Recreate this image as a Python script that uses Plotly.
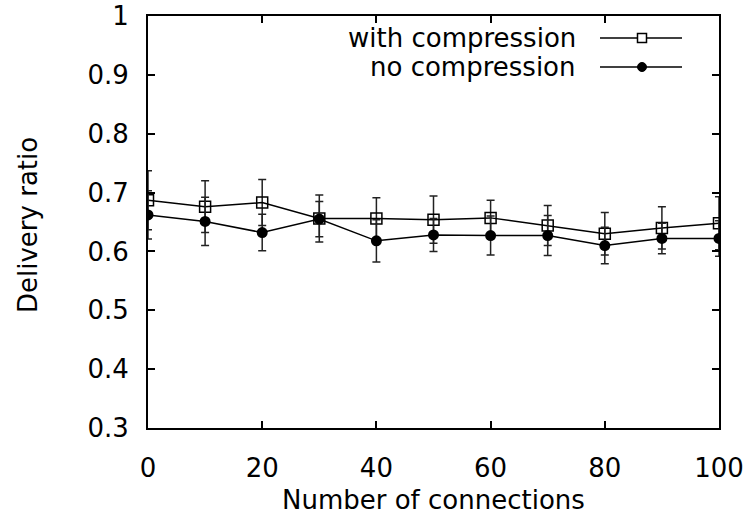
import plotly.graph_objects as go

connections = [0, 10, 20, 30, 40, 50, 60, 70, 80, 90, 100]
with_comp = [0.687, 0.676, 0.683, 0.656, 0.656, 0.654, 0.657, 0.644, 0.630, 0.640, 0.648]
with_comp_err = [0.050, 0.044, 0.039, 0.040, 0.035, 0.040, 0.030, 0.034, 0.036, 0.036, 0.045]
no_comp = [0.662, 0.651, 0.632, 0.655, 0.618, 0.628, 0.627, 0.627, 0.610, 0.622, 0.622]
no_comp_err = [0.041, 0.041, 0.031, 0.030, 0.036, 0.028, 0.033, 0.034, 0.031, 0.026, 0.030]
series_names = ["with compression", "no compression"]
x_ticks = [0, 20, 40, 60, 80, 100]
y_ticks = [0.3, 0.4, 0.5, 0.6, 0.7, 0.8, 0.9, 1]
y_tick_text = ["0.3", "0.4", "0.5", "0.6", "0.7", "0.8", "0.9", "1"]

FONT = "DejaVu Sans"
FS = 26

fig = go.Figure()
fig.add_trace(go.Scatter(
    x=connections, y=with_comp, mode="lines+markers", name=series_names[0],
    line=dict(color="black", width=1.5),
    marker=dict(symbol="square-open", size=11, color="black", line=dict(width=1.5, color="black")),
    error_y=dict(type="data", array=with_comp_err, visible=True, color="#222222", thickness=1.5, width=4),
    showlegend=False,
))
fig.add_trace(go.Scatter(
    x=connections, y=no_comp, mode="lines+markers", name=series_names[1],
    line=dict(color="black", width=1.5),
    marker=dict(symbol="circle", size=11, color="black"),
    error_y=dict(type="data", array=no_comp_err, visible=True, color="#222222", thickness=1.5, width=4),
    showlegend=False,
))

# page body margin is removed (post_script), so figure pixels == screen pixels
W, H = 750, 527
plot_left, plot_right, plot_top, plot_bottom = 148, 719, 16, 428
L = plot_left
T = plot_top
pw = plot_right - plot_left
ph = plot_bottom - plot_top
R = W - L - pw
B = H - T - ph

def px(xs):
    return (xs - plot_left) / pw

def py(ys):
    return (plot_bottom - ys) / ph

shapes = []
annotations = []
legend_rows = [(38, "square"), (67, "circle")]
for (ypix, kind), name in zip(legend_rows, series_names):
    shapes.append(dict(type="line", xref="paper", yref="paper",
                       x0=px(600), x1=px(682), y0=py(ypix), y1=py(ypix),
                       line=dict(color="black", width=1.5)))
    if kind == "square":
        shapes.append(dict(type="rect", xref="paper", yref="paper",
                           xsizemode="pixel", ysizemode="pixel",
                           xanchor=px(642), yanchor=py(ypix),
                           x0=-4.5, x1=4.5, y0=-4.5, y1=4.5,
                           line=dict(color="black", width=1.5), fillcolor="white"))
    else:
        shapes.append(dict(type="circle", xref="paper", yref="paper",
                           xsizemode="pixel", ysizemode="pixel",
                           xanchor=px(642), yanchor=py(ypix),
                           x0=-4.5, x1=4.5, y0=-4.5, y1=4.5,
                           line=dict(color="black", width=1), fillcolor="black"))
    annotations.append(dict(text=name, xref="paper", yref="paper",
                            x=px(578), y=py(ypix), xanchor="right", yanchor="middle",
                            showarrow=False, font=dict(family=FONT, size=FS, color="black")))

annotations.append(dict(text="Number of connections", xref="paper", yref="paper",
                        x=0.5, y=py(500), xanchor="center", yanchor="middle",
                        showarrow=False, font=dict(family=FONT, size=FS, color="black")))
annotations.append(dict(text="Delivery ratio", xref="paper", yref="paper",
                        x=px(28), y=py(225), xanchor="center", yanchor="middle", textangle=-90,
                        showarrow=False, font=dict(family=FONT, size=FS, color="black")))

fig.update_layout(
    width=W, height=H,
    margin=dict(l=L, r=R, t=T, b=B, autoexpand=False),
    paper_bgcolor="white", plot_bgcolor="white",
    font=dict(family=FONT, size=FS, color="black"),
    shapes=shapes, annotations=annotations,
    showlegend=False,
)
fig.update_xaxes(
    range=[0, 100], tickvals=x_ticks, ticks="inside", ticklen=7, tickwidth=1.5, tickcolor="black",
    showline=True, linecolor="black", linewidth=2, mirror="ticks",
    showgrid=False, zeroline=False, ticklabelstandoff=16, ticklabeloverflow="allow",
    tickfont=dict(family=FONT, size=FS, color="black"),
)
fig.update_yaxes(
    range=[0.3, 1], tickvals=y_ticks, ticktext=y_tick_text, ticks="inside", ticklen=7, tickwidth=1.5,
    tickcolor="black", showline=True, linecolor="black", linewidth=2, mirror="ticks",
    showgrid=False, zeroline=False, ticklabelstandoff=12, ticklabeloverflow="allow",
    tickfont=dict(family=FONT, size=FS, color="black"),
)

fig.write_html("out.html", config={"displayModeBar": False},
               post_script="document.body.style.margin='0';")
